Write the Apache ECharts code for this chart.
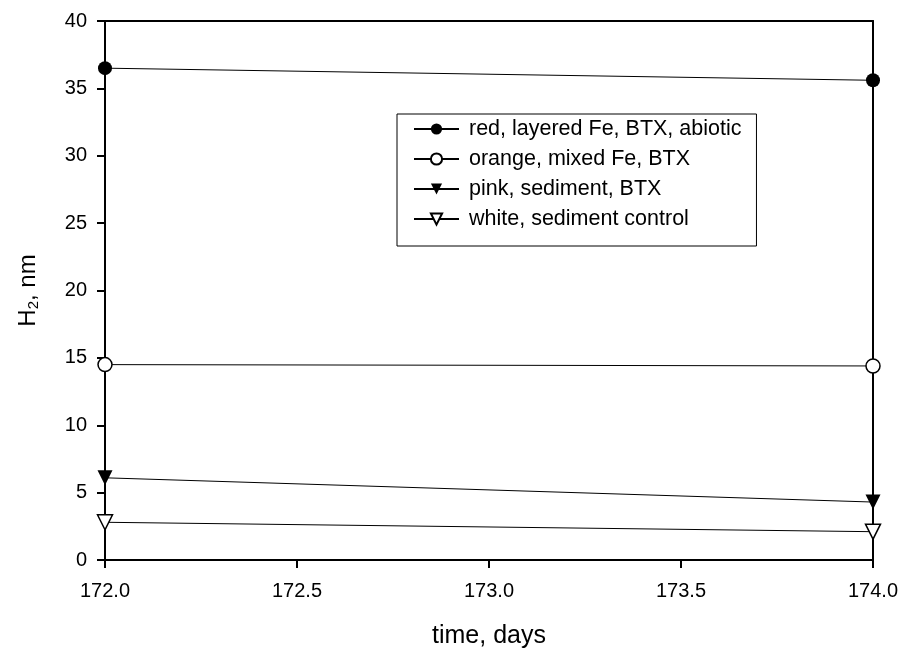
<!DOCTYPE html>
<html>
<head>
<meta charset="utf-8">
<script src="https://cdn.jsdelivr.net/npm/echarts@6/dist/echarts.min.js"></script>
<style>
  html, body { margin: 0; padding: 0; background: #fff; }
  #chart { width: 904px; height: 649px; }
</style>
</head>
<body>
<div id="chart"></div>
<script>
// Sampling days and H2 concentrations (nM) for each incubation
const days = [172.0, 174.0];
const seriesNames = [
  'red, layered Fe, BTX, abiotic',
  'orange, mixed Fe, BTX',
  'pink, sediment, BTX',
  'white, sediment control'
];
const redLayeredFe = [36.5, 35.6];
const orangeMixedFe = [14.5, 14.4];
const pinkSediment = [6.1, 4.3];
const whiteControl = [2.8, 2.1];
const xTicks = [172.0, 172.5, 173.0, 173.5, 174.0];
const yTicks = [0, 5, 10, 15, 20, 25, 30, 35, 40];

const FONT = '"Liberation Sans", Arial, sans-serif';

function pairs(values) {
  return days.map((d, i) => [d, values[i]]);
}

function makeSeries(name, values, symbol, filled, rotate) {
  return {
    name: name,
    type: 'line',
    data: pairs(values),
    symbol: symbol,
    symbolSize: symbol === 'circle' ? 14 : 15,
    symbolRotate: rotate,
    showAllSymbol: true,
    lineStyle: { color: '#000', width: 1 },
    itemStyle: {
      color: filled ? '#000' : '#fff',
      borderColor: '#000',
      borderWidth: filled ? 0 : 1.5
    },
    emphasis: { disabled: true },
    z: 5
  };
}

const chart = echarts.init(document.getElementById('chart'), null, { renderer: 'canvas' });

chart.setOption({
  backgroundColor: '#fff',
  animation: false,
  grid: {
    left: 105, right: 31, top: 21, bottom: 89,
    containLabel: false,
    outerBoundsMode: 'none'
  },
  legend: {
    orient: 'vertical',
    left: 397,
    top: 114,
    padding: [4, 15, 16, 16],
    itemGap: 8,
    itemWidth: 45,
    itemHeight: 14,
    borderColor: '#000',
    borderWidth: 1,
    backgroundColor: '#fff',
    selectedMode: false,
    textStyle: { fontFamily: FONT, fontSize: 21.5, color: '#000', padding: [0, 0, 0, 5] },
    data: seriesNames
  },
  xAxis: [
    {
      type: 'value',
      min: 172,
      max: 174,
      interval: 0.5,
      position: 'bottom',
      name: 'time, days',
      nameLocation: 'middle',
      nameGap: 64,
      nameTextStyle: { fontFamily: FONT, fontSize: 25, color: '#000' },
      axisLine: { show: true, onZero: false, lineStyle: { color: '#000', width: 2 } },
      axisTick: { show: true, inside: false, length: 8, lineStyle: { color: '#000', width: 2 } },
      axisLabel: {
        fontFamily: FONT, fontSize: 20, color: '#000', margin: 21,
        formatter: v => v.toFixed(1)
      },
      splitLine: { show: false }
    },
    {
      type: 'value',
      min: 172,
      max: 174,
      position: 'top',
      axisLine: { show: true, onZero: false, lineStyle: { color: '#000', width: 2 } },
      axisTick: { show: false },
      axisLabel: { show: false },
      splitLine: { show: false }
    }
  ],
  yAxis: [
    {
      type: 'value',
      min: 0,
      max: 40,
      interval: 5,
      position: 'left',
      name: '{a|H}{s|2}{a|, nm}',
      nameLocation: 'middle',
      nameGap: 64,
      nameRotate: 90,
      nameTextStyle: {
        rich: {
          a: { fontFamily: FONT, fontSize: 24, color: '#000' },
          s: { fontFamily: FONT, fontSize: 15, color: '#000', verticalAlign: 'bottom', padding: [10, 0, 0, 0] }
        }
      },
      axisLine: { show: true, onZero: false, lineStyle: { color: '#000', width: 2 } },
      axisTick: { show: true, inside: false, length: 8, lineStyle: { color: '#000', width: 2 } },
      axisLabel: { fontFamily: FONT, fontSize: 20, color: '#000', margin: 18 },
      splitLine: { show: false }
    },
    {
      type: 'value',
      min: 0,
      max: 40,
      position: 'right',
      axisLine: { show: true, onZero: false, lineStyle: { color: '#000', width: 2 } },
      axisTick: { show: false },
      axisLabel: { show: false },
      splitLine: { show: false }
    }
  ],
  series: [
    makeSeries(seriesNames[0], redLayeredFe, 'circle', true, 0),
    makeSeries(seriesNames[1], orangeMixedFe, 'circle', false, 0),
    makeSeries(seriesNames[2], pinkSediment, 'triangle', true, 180),
    makeSeries(seriesNames[3], whiteControl, 'triangle', false, 180)
  ]
});
</script>
</body>
</html>
